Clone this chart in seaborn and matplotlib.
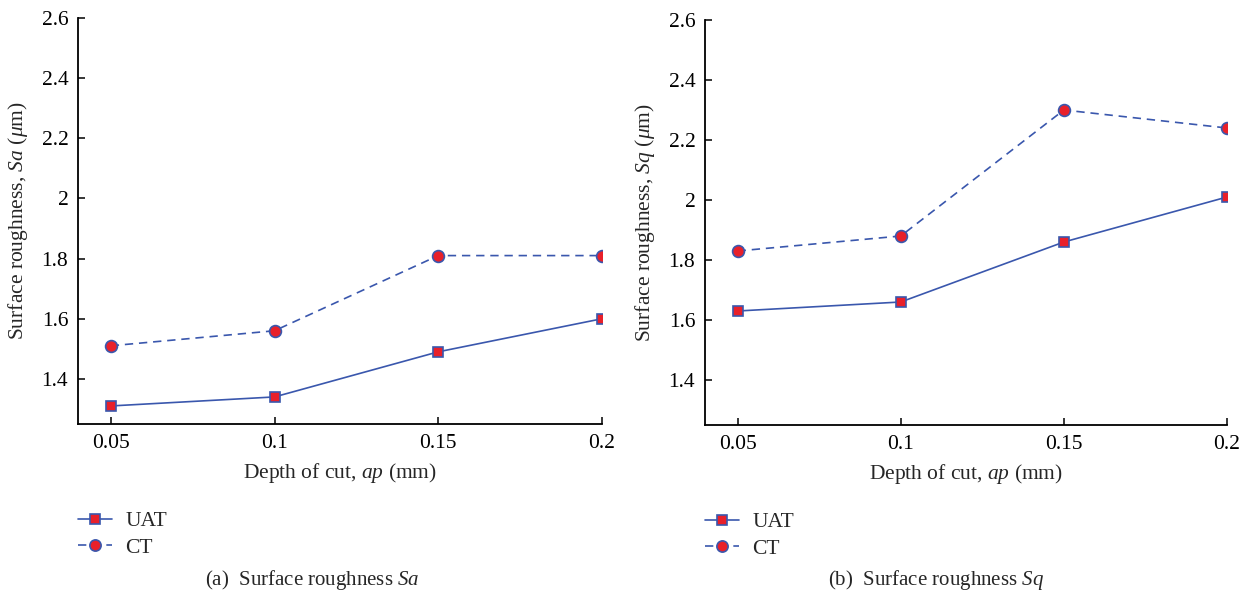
import matplotlib
matplotlib.use("Agg")
import matplotlib.pyplot as plt
import seaborn as sns
import pandas as pd

# Depth of cut (mm)
depth = [0.05, 0.10, 0.15, 0.20]

# Surface roughness Sa (um)
sa_uat = [1.31, 1.34, 1.49, 1.60]
sa_ct = [1.51, 1.56, 1.81, 1.81]

# Surface roughness Sq (um)
sq_uat = [1.63, 1.66, 1.86, 2.01]
sq_ct = [1.83, 1.88, 2.30, 2.24]

x_ticks = [0.05, 0.1, 0.15, 0.2]
x_tick_labels = ["0.05", "0.1", "0.15", "0.2"]
y_ticks = [1.4, 1.6, 1.8, 2.0, 2.2, 2.4, 2.6]
y_tick_labels = ["1.4", "1.6", "1.8", "2", "2.2", "2.4", "2.6"]

sns.set_theme(style="ticks")
plt.rcParams["font.family"] = ["Liberation Serif", "DejaVu Serif"]
plt.rcParams["mathtext.fontset"] = "custom"
plt.rcParams["mathtext.rm"] = "Liberation Serif"
plt.rcParams["mathtext.it"] = "Liberation Serif:italic"

LINE = "#3a57ad"
FILL = "#e8202a"
FS = 15.5

fig = plt.figure(figsize=(12.49, 5.97), dpi=100)
ax_a = fig.add_axes([78 / 1249, 1 - 424 / 597, 524 / 1249, 406 / 597])
ax_b = fig.add_axes([705 / 1249, 1 - 425 / 597, 522 / 1249, 405 / 597])


def draw_panel(ax, uat, ct, ylabel):
    df = pd.DataFrame({"depth": depth, "uat": uat, "ct": ct})
    sns.lineplot(data=df, x="depth", y="uat", ax=ax, color=LINE,
                 linewidth=1.2, marker="s", markersize=7.5,
                 markerfacecolor=FILL, markeredgecolor=LINE,
                 markeredgewidth=1.2, label="UAT")
    sns.lineplot(data=df, x="depth", y="ct", ax=ax, color=LINE,
                 linewidth=1.2, linestyle=(0, (5, 3.5)), marker="o",
                 markersize=8.5, markerfacecolor=FILL,
                 markeredgecolor=LINE, markeredgewidth=1.2, label="CT")
    ax.set_xlim(0.04, 0.2)
    ax.set_ylim(1.25, 2.6)
    ax.set_xticks(x_ticks)
    ax.set_xticklabels(x_tick_labels)
    ax.set_yticks(y_ticks)
    ax.set_yticklabels(y_tick_labels)
    ax.tick_params(direction="in", length=5, width=1.1, labelsize=FS,
                   colors="black", pad=7)
    for side in ("top", "right"):
        ax.spines[side].set_visible(False)
    for side in ("left", "bottom"):
        ax.spines[side].set_linewidth(1.3)
        ax.spines[side].set_color("black")
    ax.set_xlabel("Depth of cut, $ap$ (mm)", fontsize=FS, labelpad=6)
    ax.set_ylabel(ylabel, fontsize=FS, labelpad=8)
    ax.grid(False)
    ax.set_facecolor("white")
    ax.legend(loc="upper left", bbox_to_anchor=(0.0, -0.215),
              frameon=False, fontsize=FS, handlelength=1.6,
              handletextpad=0.6, borderpad=0, borderaxespad=0,
              labelspacing=0.3, markerscale=0.95)


draw_panel(ax_a, sa_uat, sa_ct, "Surface roughness, $Sa$ ($\\mu$m)")
draw_panel(ax_b, sq_uat, sq_ct, "Surface roughness, $Sq$ ($\\mu$m)")

fig.text(312 / 1249, 1 - 580 / 597, "(a)  Surface roughness $Sa$",
         ha="center", va="center", fontsize=15)
fig.text(936 / 1249, 1 - 580 / 597, "(b)  Surface roughness $Sq$",
         ha="center", va="center", fontsize=15)

fig.savefig("out.png", dpi=100, facecolor="white")
